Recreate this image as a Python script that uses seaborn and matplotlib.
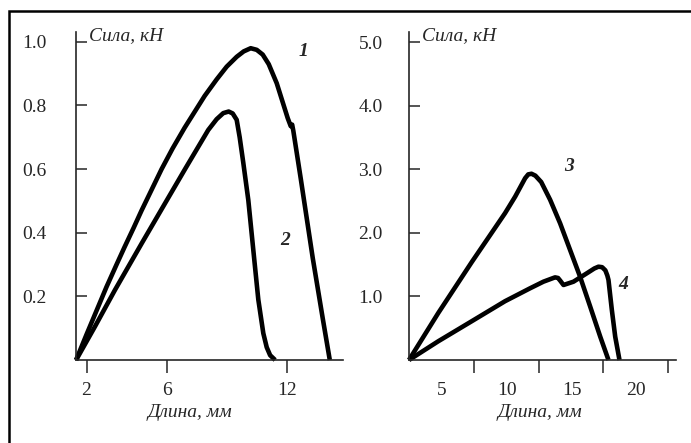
import matplotlib
matplotlib.use("Agg")
import matplotlib.pyplot as plt
import matplotlib.transforms as mtransforms
from matplotlib.patches import Rectangle
import pandas as pd
import seaborn as sns

# левая панель: кривые 1 и 2 (длина, мм / сила, кН)
curve1_len = [1.48, 2.0, 2.5, 3.0, 3.5, 3.9, 4.35, 4.75, 5.25, 5.75, 6.3, 6.9,
              7.4, 7.9, 8.5, 9.0, 9.5, 9.85, 10.2, 10.5, 10.8, 11.1, 11.5, 11.8,
              12.05, 12.2, 12.27, 12.33, 12.7, 13.3, 13.8, 14.15]
curve1_force = [0, 0.08, 0.155, 0.23, 0.30, 0.355, 0.415, 0.47, 0.535, 0.60, 0.665, 0.73,
                0.78, 0.83, 0.882, 0.922, 0.953, 0.97, 0.98, 0.975, 0.96, 0.93, 0.87, 0.81,
                0.76, 0.735, 0.74, 0.72, 0.57, 0.32, 0.13, 0]

curve2_len = [1.48, 2.42, 3.42, 4.76, 5.76, 6.92, 8.08, 8.5, 8.83, 9.1, 9.3, 9.5,
              9.65, 9.83, 10.08, 10.33, 10.58, 10.83, 11.0, 11.17, 11.42]
curve2_force = [0, 0.105, 0.22, 0.367, 0.475, 0.6, 0.723, 0.757, 0.776, 0.781, 0.775, 0.755,
                0.70, 0.62, 0.503, 0.346, 0.19, 0.084, 0.04, 0.015, 0]

# правая панель: кривые 3 и 4
curve3_len = [0, 2.26, 4.84, 7.41, 8.19, 8.96, 9.2, 9.45, 9.75, 10.2, 10.89, 11.66,
              12.43, 13.2, 13.98, 14.75, 15.39]
curve3_force = [0, 0.74, 1.54, 2.31, 2.57, 2.86, 2.92, 2.93, 2.90, 2.80, 2.52, 2.15,
                1.73, 1.31, 0.84, 0.37, 0]

curve4_len = [0, 2.26, 4.84, 7.41, 9.34, 10.37, 11.0, 11.27, 11.5, 11.66, 11.92, 12.69,
              13.72, 14.3, 14.62, 14.9, 15.15, 15.3, 15.39, 15.65, 15.91, 16.24]
curve4_force = [0, 0.295, 0.61, 0.925, 1.128, 1.232, 1.28, 1.30, 1.29, 1.25, 1.18, 1.232,
                1.364, 1.44, 1.468, 1.46, 1.41, 1.33, 1.26, 0.787, 0.367, 0]

left_xticks = [2, 6, 12]
left_yticks = [0.2, 0.4, 0.6, 0.8, 1.0]
right_xticks = [5, 10, 15, 20]
right_yticks = [1.0, 2.0, 3.0, 4.0, 5.0]

# номера кривых и где они подписаны
left_labels = [("1", 12.82, 0.97), ("2", 11.92, 0.377)]
right_labels = [("3", 12.38, 3.04), ("4", 16.55, 1.18)]


def draw_curve(ax, xs, ys):
    df = pd.DataFrame({"len": xs, "force": ys})
    sns.lineplot(data=df, x="len", y="force", ax=ax, color="black", lw=3.3,
                 sort=False, estimator=None, clip_on=False,
                 solid_capstyle="butt", solid_joinstyle="round")


def style_panel(ax, xticks, yticks, ylab_pad):
    ax.set_xticks(xticks)
    ax.set_xticklabels([str(t) for t in xticks])
    ax.set_yticks(yticks)
    ax.set_yticklabels([f"{t:.1f}" for t in yticks])
    ax.tick_params(axis="y", direction="in", length=8, width=1.1,
                   pad=ylab_pad, labelsize=14)
    ax.tick_params(axis="x", direction="out", length=9.5, width=1.1,
                   pad=6, labelsize=14)
    ax.set_xlabel("Длина, мм", fontstyle="italic", fontsize=14, va="top")
    ax.set_ylabel("")
    ax.text(0.05, 0.99, "Сила, кН", transform=ax.transAxes, fontstyle="italic",
            fontsize=14, ha="left", va="center")
    sns.despine(ax=ax)


def main():
    sns.set_style("ticks")
    plt.rcParams["font.family"] = ["Liberation Serif", "DejaVu Serif"]
    plt.rcParams["axes.linewidth"] = 1.2

    fig = plt.figure(figsize=(6.91, 4.43), dpi=100)
    ax1 = fig.add_axes([76 / 691, 83 / 443, 267 / 691, 328 / 443])
    ax2 = fig.add_axes([409 / 691, 83 / 443, 267 / 691, 328 / 443])

    draw_curve(ax1, curve1_len, curve1_force)
    draw_curve(ax1, curve2_len, curve2_force)
    draw_curve(ax2, curve3_len, curve3_force)
    draw_curve(ax2, curve4_len, curve4_force)

    ax1.set_xlim(1.475, 14.81)
    ax1.set_ylim(0, 1.031)
    ax2.set_xlim(0, 20.6)
    ax2.set_ylim(0, 5.16)

    style_panel(ax1, left_xticks, left_yticks, 21)
    style_panel(ax2, right_xticks, right_yticks, 19)
    ax1.xaxis.set_label_coords(0.427, -0.135)
    ax2.xaxis.set_label_coords(0.49, -0.135)

    for ax, labels in [(ax1, left_labels), (ax2, right_labels)]:
        for txt, x, y in labels:
            ax.text(x, y, txt, fontweight="bold", fontstyle="italic",
                    fontsize=14, ha="center", va="center")

    # подписи на правой оси сдвинуты влево, как на исходном рисунке
    shift = mtransforms.ScaledTranslation(-23 / 72, 0, fig.dpi_scale_trans)
    for lab in ax2.get_xticklabels():
        lab.set_transform(lab.get_transform() + shift)

    # рамка (видны только верх и левая сторона)
    fig.add_artist(Rectangle((9 / 691, -0.5), 2, 0.5 + 1 - 11 / 443,
                             transform=fig.transFigure, fill=False,
                             lw=1.8, ec="black"))

    fig.savefig("out.png", dpi=100)


if __name__ == "__main__":
    main()
